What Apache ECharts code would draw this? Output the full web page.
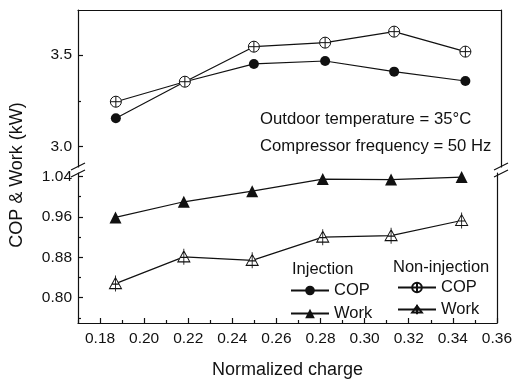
<!DOCTYPE html>
<html>
<head>
<meta charset="utf-8">
<script src="https://cdn.jsdelivr.net/npm/echarts@6/dist/echarts.min.js"></script>
<style>
  html, body { margin: 0; padding: 0; background: #fff; }
  #chart { width: 515px; height: 380px; }
</style>
</head>
<body>
<div id="chart"></div>
<script>
// data
var charge = [0.187, 0.218, 0.249, 0.281, 0.312, 0.344];
var injCop = [3.155, 3.354, 3.451, 3.467, 3.409, 3.358];
var nonInjCop = [3.245, 3.354, 3.545, 3.567, 3.627, 3.518];
var injWork = [0.959, 0.990, 1.011, 1.035, 1.034, 1.039];
var nonInjWork = [0.828, 0.881, 0.874, 0.920, 0.923, 0.953];

// ticks
var xMajor = [0.18, 0.20, 0.22, 0.24, 0.26, 0.28, 0.30, 0.32, 0.34, 0.36];
var xMinor = [0.17, 0.19, 0.21, 0.23, 0.25, 0.27, 0.29, 0.31, 0.33, 0.35];
var copMajor = [3.0, 3.5];
var copMinor = [3.25];
var workMajor = [0.80, 0.88, 0.96, 1.04];
var workMinor = [0.76, 0.84, 0.92, 1.00];

var FONT = 'Liberation Sans';
var INK = '#111';

function pairs(xs, ys) {
	var out = [];
	for (var i = 0; i < xs.length; i++) out.push([xs[i], ys[i]]);
	return out;
}

var symCrossCircle = 'path://M0,6A6,6,0,1,1,12,6A6,6,0,1,1,0,6ZM6,0L6,12M0,6L12,6';
var symCrossTri = 'path://M6,2L12,13L0,13ZM6,0L6,16M2,8.5L10,8.5';

var chart = echarts.init(document.getElementById('chart'));

var lineStyle = {color: INK, width: 1.2};
// blank axis used only for the frame lines
function frameY(grid, pos) {
	return {type: 'value', gridIndex: grid, position: pos, min: grid == 0 ? 2.889 : 0.75, max: grid == 0 ? 3.745 : 1.047,
		axisLine: {show: true, lineStyle: lineStyle}, axisTick: {show: false}, axisLabel: {show: false}, splitLine: {show: false}};
}
// left axis ticks
function tickY(grid, major, minor, withLabels, digits) {
	return {type: 'value', gridIndex: grid, position: 'left', min: grid == 0 ? 2.889 : 0.75, max: grid == 0 ? 3.745 : 1.047,
		axisLine: {show: withLabels, lineStyle: lineStyle},
		axisTick: {show: true, inside: true, length: withLabels ? 5 : 3, lineStyle: lineStyle, customValues: withLabels ? major : minor},
		axisLabel: {show: withLabels, customValues: major, fontFamily: FONT, fontSize: 15.5, color: INK, margin: 6,
			formatter: function(v){ return v.toFixed(digits); }},
		splitLine: {show: false}};
}

var option = {
	backgroundColor: '#fff',
	animation: false,
	grid: [
		{left: 78, right: 14, top: 10, height: 157},
		{left: 78, right: 14, top: 173, height: 154}
	],
	xAxis: [
		{type: 'value', gridIndex: 0, position: 'top', min: 0.17, max: 0.36,
			axisLine: {show: true, lineStyle: lineStyle}, axisTick: {show: false}, axisLabel: {show: false}, splitLine: {show: false}},
		{type: 'value', gridIndex: 1, position: 'bottom', min: 0.17, max: 0.36,
			axisLine: {show: true, lineStyle: lineStyle},
			axisTick: {show: true, inside: true, length: 5, lineStyle: lineStyle, customValues: xMajor},
			axisLabel: {customValues: xMajor, fontFamily: FONT, fontSize: 15.5, color: INK, margin: 8,
				formatter: function(v){ return v.toFixed(2); }},
			splitLine: {show: false},
			name: 'Normalized charge', nameLocation: 'middle', nameGap: 38,
			nameTextStyle: {fontFamily: FONT, fontSize: 18, color: INK}},
		{type: 'value', gridIndex: 1, position: 'bottom', min: 0.17, max: 0.36,
			axisLine: {show: false},
			axisTick: {show: true, inside: true, length: 3, lineStyle: lineStyle, customValues: xMinor},
			axisLabel: {show: false}, splitLine: {show: false}}
	],
	yAxis: [
		tickY(0, copMajor, copMinor, true, 1),
		tickY(0, copMajor, copMinor, false, 1),
		frameY(0, 'right'),
		tickY(1, workMajor, workMinor, true, 2),
		tickY(1, workMajor, workMinor, false, 2),
		frameY(1, 'right')
	],
	legend: [
		{data: ['Injection COP', 'Injection Work'], orient: 'vertical', left: 290, top: 282, padding: 0,
			itemWidth: 38, itemHeight: 12, itemGap: 6, itemTextGap: 5,
			textStyle: {fontFamily: FONT, fontSize: 16.5, color: INK},
			formatter: function(n){ return n.split(' ').pop(); }},
		{data: ['Non-injection COP', 'Non-injection Work'], orient: 'vertical', left: 397, top: 279, padding: 0,
			itemWidth: 38, itemHeight: 12, itemGap: 5, itemTextGap: 5,
			textStyle: {fontFamily: FONT, fontSize: 16.5, color: INK},
			formatter: function(n){ return n.split(' ').pop(); }}
	],
	graphic: [
		{type: 'text', left: 260, top: 111, style: {text: 'Outdoor temperature = 35°C', font: '16.7px "Liberation Sans"', fill: INK}},
		{type: 'text', left: 260, top: 138, style: {text: 'Compressor frequency = 50 Hz', font: '16.7px "Liberation Sans"', fill: INK}},
		{type: 'text', left: 292, top: 261, style: {text: 'Injection', font: '16.5px "Liberation Sans"', fill: INK}},
		{type: 'text', left: 393, top: 259, style: {text: 'Non-injection', font: '16.5px "Liberation Sans"', fill: INK}},
		{type: 'text', x: 17, y: 175, rotation: Math.PI / 2,
			style: {text: 'COP & Work (kW)', font: '18px "Liberation Sans"', fill: INK, align: 'center', verticalAlign: 'middle'}},
		// axis break marks
		{type: 'line', shape: {x1: 71, y1: 170, x2: 85, y2: 163}, style: {stroke: INK, lineWidth: 1.2}},
		{type: 'line', shape: {x1: 71, y1: 177, x2: 85, y2: 170}, style: {stroke: INK, lineWidth: 1.2}},
		{type: 'line', shape: {x1: 494, y1: 170, x2: 508, y2: 163}, style: {stroke: INK, lineWidth: 1.2}},
		{type: 'line', shape: {x1: 494, y1: 177, x2: 508, y2: 170}, style: {stroke: INK, lineWidth: 1.2}}
	],
	series: [
		{name: 'Injection COP', type: 'line', xAxisIndex: 0, yAxisIndex: 0, data: pairs(charge, injCop),
			symbol: 'circle', symbolSize: 10, lineStyle: lineStyle, itemStyle: {color: INK}},
		{name: 'Non-injection COP', type: 'line', xAxisIndex: 0, yAxisIndex: 0, data: pairs(charge, nonInjCop),
			symbol: symCrossCircle, symbolSize: 11, lineStyle: lineStyle,
			itemStyle: {color: '#fff', borderColor: INK, borderWidth: 1}},
		{name: 'Injection Work', type: 'line', xAxisIndex: 1, yAxisIndex: 3, data: pairs(charge, injWork),
			symbol: 'triangle', symbolSize: 12, lineStyle: lineStyle, itemStyle: {color: INK}},
		{name: 'Non-injection Work', type: 'line', xAxisIndex: 1, yAxisIndex: 3, data: pairs(charge, nonInjWork),
			symbol: symCrossTri, symbolSize: [12, 16], lineStyle: lineStyle,
			itemStyle: {color: '#fff', borderColor: INK, borderWidth: 1}}
	]
};
chart.setOption(option);
</script>
</body>
</html>
